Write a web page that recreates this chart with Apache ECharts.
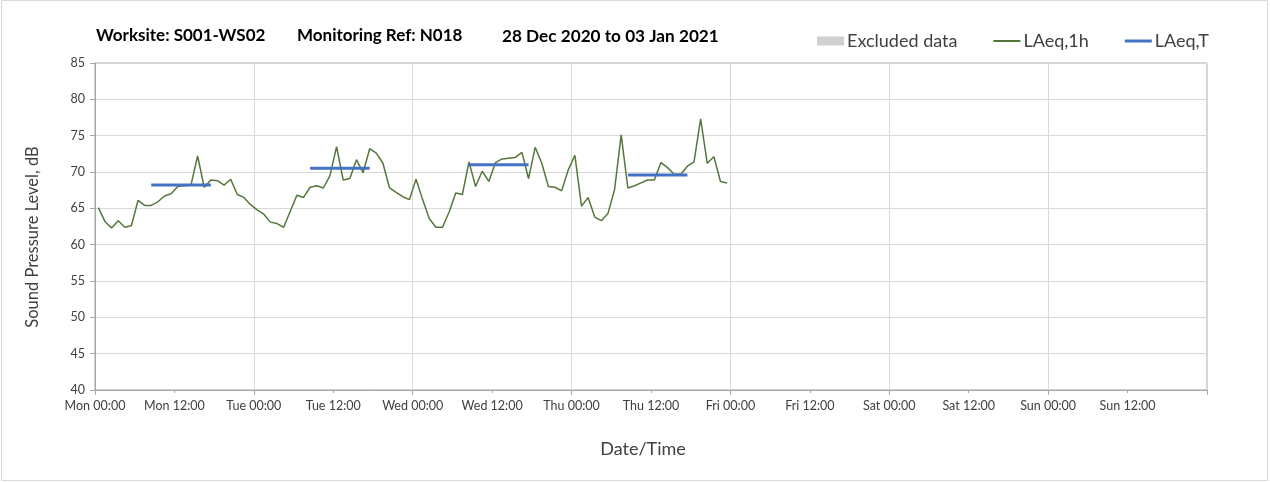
<!DOCTYPE html>
<html>
<head>
<meta charset="utf-8">
<script src="https://cdn.jsdelivr.net/npm/echarts@6/dist/echarts.min.js"></script>
<style>
html,body{margin:0;padding:0;background:#fff;}
#chart{width:1270px;height:482px;}
</style>
</head>
<body>
<div id="chart"></div>
<script>
// ---- data ----
const titleParts = ['Worksite: S001-WS02', 'Monitoring Ref: N018', '28 Dec 2020 to 03 Jan 2021'];
const dayNames = ['Mon', 'Tue', 'Wed', 'Thu', 'Fri', 'Sat', 'Sun'];
// hourly LAeq,1h values from Mon 00:00 (one per hour)
const laeq1h = [
  65.1, 63.2, 62.3, 63.3, 62.4, 62.6, 66.1, 65.4, 65.4, 65.9, 66.7, 67.0,
  68.0, 68.1, 68.2, 72.2, 67.9, 68.9, 68.8, 68.2, 69.0, 66.9, 66.5, 65.5,
  64.8, 64.2, 63.1, 62.9, 62.4, 64.6, 66.8, 66.5, 67.9, 68.1, 67.8, 69.5,
  73.5, 68.9, 69.1, 71.7, 69.9, 73.2, 72.6, 71.2, 67.8, 67.2, 66.6, 66.2,
  69.0, 66.2, 63.6, 62.4, 62.4, 64.5, 67.1, 66.9, 71.4, 68.0, 70.1, 68.7,
  71.3, 71.8, 71.9, 72.0, 72.7, 69.1, 73.4, 71.2, 68.0, 67.9, 67.4, 70.3,
  72.3, 65.3, 66.5, 63.8, 63.3, 64.3, 67.6, 75.1, 67.8, 68.1, 68.5, 68.9,
  68.9, 71.3, 70.6, 69.7, 69.7, 70.8, 71.4, 77.3, 71.2, 72.1, 68.7, 68.5
];
// daytime LAeq,T per day (Mon..Thu), period from 08:00 hour to 17:00 hour
const laeqT = [68.2, 70.5, 71.0, 69.6];
const periodFirstHour = 8;
const periodLastHour = 17;
const yTicks = [40, 45, 50, 55, 60, 65, 70, 75, 80, 85];

// ---- build ----
const FONT = 'Lato';
const GREEN = '#54773a';
const BLUE = '#4472C4';
const sampleOffset = 0.5; // each hourly value plotted at mid-hour
const lineData = laeq1h.map((v, i) => [i + sampleOffset, v]);
const tSeries = laeqT.map((v, d) => ({
  name: 'LAeq,T',
  type: 'line',
  symbol: 'none',
  silent: true,
  lineStyle: { color: BLUE, width: 3 },
  itemStyle: { color: BLUE },
  data: [[d * 24 + periodFirstHour + sampleOffset, v], [d * 24 + periodLastHour + sampleOffset, v]],
  z: 3
}));

const chart = echarts.init(document.getElementById('chart'), null, { renderer: 'canvas' });
chart.setOption({
  animation: false,
  backgroundColor: '#fff',
  textStyle: { fontFamily: FONT },
  grid: { left: 95, right: 63, top: 63, bottom: 92, show: true, borderColor: '#a6a6a6', borderWidth: 1, backgroundColor: 'transparent' },
  graphic: [
    { type: 'rect', shape: { x: 1.5, y: 0.5, width: 1266, height: 480 }, style: { fill: 'none', stroke: '#d9d9d9', lineWidth: 1 }, silent: true, z: -1 },
    { type: 'text', x: 96, y: 36, style: { text: titleParts[0], font: 'bold 17px ' + FONT, fill: '#000', textVerticalAlign: 'middle' } },
    { type: 'text', x: 297, y: 36, style: { text: titleParts[1], font: 'bold 17px ' + FONT, fill: '#000', textVerticalAlign: 'middle' } },
    { type: 'text', x: 502, y: 36, style: { text: titleParts[2], font: 'bold 17.2px ' + FONT, fill: '#000', textVerticalAlign: 'middle' } },
    { type: 'text', x: 33, y: 237, rotation: Math.PI / 2, style: { text: 'Sound Pressure Level, dB', font: '16.5px ' + FONT, fill: '#404040', textAlign: 'center', textVerticalAlign: 'middle' } },
    { type: 'text', x: 643, y: 449, style: { text: 'Date/Time', font: '18px ' + FONT, fill: '#404040', textAlign: 'center', textVerticalAlign: 'middle' } }
  ],
  legend: {
    top: 27,
    right: 56,
    itemWidth: 27,
    itemHeight: 9,
    itemGap: 36,
    textStyle: { fontFamily: FONT, fontSize: 18, color: '#404040', padding: [0, 0, 0, -2] },
    data: [
      { name: 'Excluded data', icon: 'rect', itemStyle: { color: '#d0d0d0' } },
      { name: 'LAeq,1h', icon: 'path://M0,0L27,0L27,2L0,2Z', itemStyle: { color: GREEN } },
      { name: 'LAeq,T', icon: 'path://M0,0L27,0L27,3L0,3Z', itemStyle: { color: BLUE } }
    ]
  },
  xAxis: [
    {
      type: 'value', min: 0, max: 168, interval: 12,
      axisLine: { show: true, lineStyle: { color: '#a6a6a6', width: 1 } },
      axisTick: { show: true, length: 3, lineStyle: { color: '#a6a6a6' } },
      splitLine: { show: false },
      axisLabel: {
        fontFamily: FONT, fontSize: 12.5, color: '#404040', margin: 9, showMaxLabel: false,
        formatter: v => dayNames[Math.floor(v / 24) % 7] + ' ' + (v % 24 === 0 ? '00:00' : '12:00')
      }
    },
    {
      type: 'value', min: 0, max: 168, interval: 24, position: 'bottom',
      axisLine: { show: false },
      axisTick: { show: true, length: 5, lineStyle: { color: '#a6a6a6' } },
      axisLabel: { show: false },
      splitLine: { show: true, lineStyle: { color: '#d9d9d9', width: 1 } }
    }
  ],
  yAxis: {
    type: 'value', min: 40, max: 85, interval: 5,
    axisLine: { show: true, lineStyle: { color: '#a6a6a6' } },
    axisTick: { show: true, length: 5, lineStyle: { color: '#a6a6a6' } },
    splitLine: { show: true, lineStyle: { color: '#d9d9d9', width: 1 } },
    axisLabel: { fontFamily: FONT, fontSize: 12.5, color: '#404040', margin: 10,
      formatter: v => yTicks.includes(v) ? String(v) : '' }
  },
  series: [
    { name: 'Excluded data', type: 'bar', data: [], itemStyle: { color: '#d0d0d0' } },
    {
      name: 'LAeq,1h', type: 'line', symbol: 'none', silent: true,
      lineStyle: { color: GREEN, width: 1.5 },
      itemStyle: { color: GREEN },
      data: lineData, z: 2
    },
    ...tSeries
  ]
});
</script>
</body>
</html>
